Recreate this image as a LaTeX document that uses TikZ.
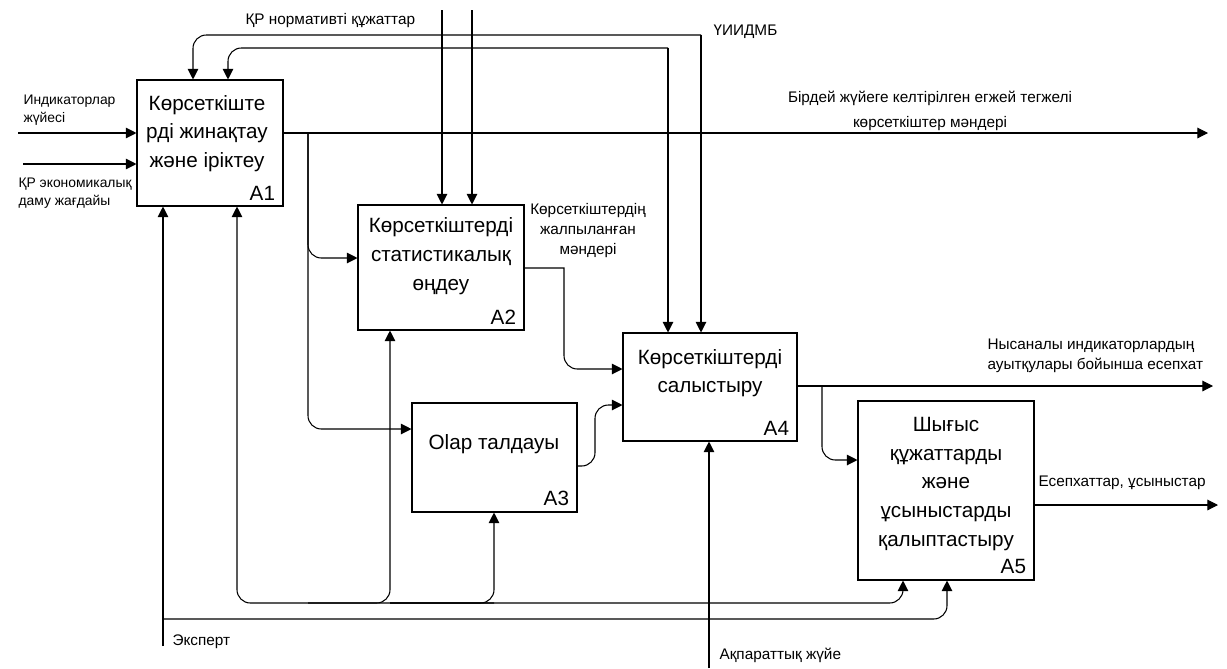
\documentclass[tikz,border=0pt]{standalone}
\usepackage{fontspec}
\setmainfont{Liberation Sans}
\usetikzlibrary{arrows.meta}

\begin{document}
\begin{tikzpicture}[x=0.75pt, y=-0.75pt, line width=0.8pt,
    box/.style={draw, inner sep=0pt},
    boxtext/.style={align=center, inner sep=0pt, font=\fontsize{15.5}{21.5}\selectfont},
    num/.style={anchor=south east, inner sep=0pt, font=\fontsize{15.5}{18}\selectfont},
    lbl/.style={anchor=west, align=left, inner sep=0pt, font=\fontsize{11.5}{15}\selectfont},
    small/.style={font=\fontsize{10.4}{13.5}\selectfont},
    arr/.style={-{Triangle[length=8pt, width=8pt]}}]
    \useasboundingbox (0,0) rectangle (1227,668);

    \node[box, minimum width=109.5pt, minimum height=94.5pt] (a1) at (210,143) {};
    \node[box, minimum width=124.5pt, minimum height=93.75pt] (a2) at (441,267.5) {};
    \node[box, minimum width=123.75pt, minimum height=81.75pt] (a3) at (494.5,457.5) {};
    \node[box, minimum width=130.5pt, minimum height=81pt] (a4) at (710,387) {};
    \node[box, minimum width=132pt, minimum height=134.25pt] (a5) at (946,490.5) {};

    \node[boxtext] (t1) at (207,133.5) {Көрсеткіште\\рді жинақтау\\және іріктеу};
    \node[boxtext] (t2) at (441,256) {Көрсеткіштерді\\статистикалық\\өңдеу};
    \node[boxtext] (t3) at (494,444) {Olap талдауы};
    \node[boxtext] (t4) at (710,373) {Көрсеткіштерді\\салыстыру};
    \node[boxtext] (t5) at (946,484) {Шығыс\\құжаттарды\\және\\ұсыныстарды\\қалыптастыру};

    \node[num] (n1) at ([shift={(-8,-6)}]a1.south east) {A1};
    \node[num] (n2) at ([shift={(-8,-6)}]a2.south east) {A2};
    \node[num] (n3) at ([shift={(-8,-6)}]a3.south east) {A3};
    \node[num] (n4) at ([shift={(-8,-6)}]a4.south east) {A4};
    \node[num] (n5) at ([shift={(-8,-6)}]a5.south east) {A5};

    \node[lbl, small] (l1) at (23,110) {Индикаторлар\\жүйесі};
    \node[lbl, small] (l2) at (18,193) {ҚР экономикалық\\даму жағдайы};
    \node[lbl] (l3) at (245,21) {ҚР нормативті құжаттар};
    \node[lbl] (l4) at (713,32) {ҮИИДМБ};
    \node[lbl, anchor=center, align=center] (l5) at (930,111) {Бірдей жүйеге келтірілген егжей тегжелі\\[4pt]көрсеткіштер мәндері};
    \node[lbl, anchor=center, align=center] (l6) at (588,231) {Көрсеткіштердің\\жалпыланған\\мәндері};
    \node[lbl] (l7) at (987,356) {Нысаналы индикаторлардың\\ауытқулары бойынша есепхат};
    \node[lbl] (l8) at (1038,483) {Есепхаттар, ұсыныстар};
    \node[lbl] (l9) at (172,642) {Эксперт};
    \node[lbl] (l10) at (719,655) {Ақпараттық жүйе};

    \coordinate (i1) at (18,133);
    \coordinate (i2) at (23,164);
    \coordinate (u) at (701,35);
    \coordinate (u1) at (193,35);
    \coordinate (v) at (668,48);
    \coordinate (v1) at (228,48);
    \coordinate (k1) at (442,10);
    \coordinate (k2) at (472,10);
    \coordinate (o1) at (1208,133);
    \coordinate (b1) at (308,133);
    \coordinate (b2) at (308,258);
    \coordinate (b3) at (308,429);
    \coordinate (d1) at (564,268);
    \coordinate (d2) at (564,369);
    \coordinate (e1) at (595,466);
    \coordinate (e2) at (595,405);
    \coordinate (o4) at (1213,386);
    \coordinate (f1) at (822,386);
    \coordinate (f2) at (822,460);
    \coordinate (o5) at (1218,505);
    \coordinate (m1) at (163,646);
    \coordinate (m2) at (163,619);
    \coordinate (m3) at (947,619);
    \coordinate (p1) at (237,603);
    \coordinate (p2) at (903,603);
    \coordinate (q1) at (390,603);
    \coordinate (q2) at (494,603);
    \coordinate (w) at (709,668);

    \draw[arr] (i1) -- (i1 -| a1.west);
    \draw[arr] (i2) -- (i2 -| a1.west);
    \draw[arr] (u) -- (u |- a4.north);
    \draw[arr, rounded corners=10pt] (u) -- (u1) -- (u1 |- a1.north);
    \draw[arr] (v) -- (v |- a4.north);
    \draw[arr, rounded corners=10pt] (v) -- (v1) -- (v1 |- a1.north);
    \draw[arr] (k1) -- (k1 |- a2.north);
    \draw[arr] (k2) -- (k2 |- a2.north);
    \draw[arr] (a1.east |- o1) -- (o1);
    \draw[arr, rounded corners=10pt] (b1) -- (b2) -- (b2 -| a2.west);
    \draw[arr, rounded corners=10pt] (b1) -- (b3) -- (b3 -| a3.west);
    \draw[arr] (a2.east |- d1) -- (d1) [rounded corners=10pt] -- (d2) -- (d2 -| a4.west);
    \draw[arr, rounded corners=10pt] (a3.east |- e1) -- (e1) -- (e2) -- (e2 -| a4.west);
    \draw[arr] (a4.east |- o4) -- (o4);
    \draw[arr, rounded corners=10pt] (f1) -- (f2) -- (f2 -| a5.west);
    \draw[arr] (a5.east |- o5) -- (o5);
    \draw[arr] (m1) -- (m1 |- a1.south);
    \draw[arr, rounded corners=10pt] (m2) -- (m3) -- (m3 |- a5.south);
    \draw[arr, rounded corners=10pt] (q2) -- (p1) -- (p1 |- a1.south);
    \draw[arr, rounded corners=10pt] (q1) -- (p2) -- (p2 |- a5.south);
    \draw[arr, rounded corners=10pt] (p1 -| b1) -- (q1) -- (q1 |- a2.south);
    \draw[arr, rounded corners=10pt] (q1) -- (q2) -- (q2 |- a3.south);
    \draw[arr] (w) -- (w |- a4.south);
\end{tikzpicture}
\end{document}
